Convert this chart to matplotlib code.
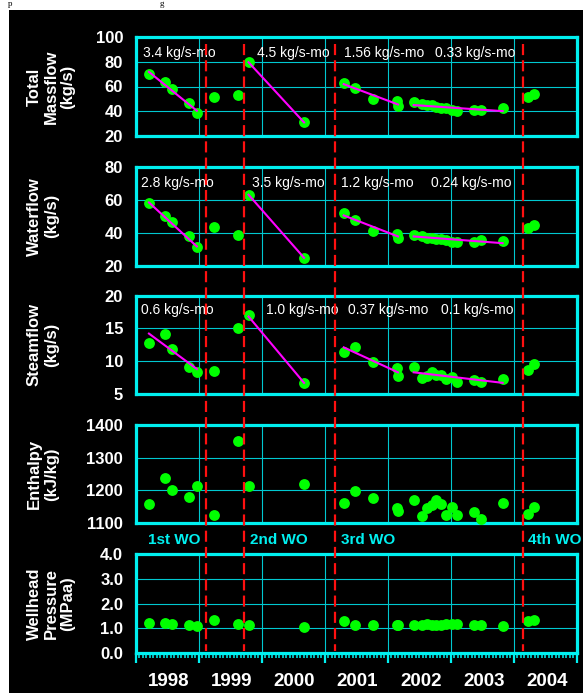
import numpy as np
import matplotlib
matplotlib.use("Agg")
import matplotlib.pyplot as plt
from matplotlib.lines import Line2D
from matplotlib.patches import Rectangle
from matplotlib.transforms import blended_transform_factory

plt.rcParams["font.family"] = ["Liberation Sans", "DejaVu Sans"]
NARROW = ["Liberation Sans Narrow", "Liberation Sans", "DejaVu Sans"]

# ---- data (decimal years) ----
dates = [1998.21, 1998.47, 1998.58, 1998.85, 1998.97,
         1999.24, 1999.62,
         1999.79, 2000.67,
         2001.30, 2001.48, 2001.76, 2002.14, 2002.16, 2002.41, 2002.54, 2002.62,
         2002.70, 2002.76, 2002.84, 2002.92, 2003.01, 2003.10, 2003.36, 2003.48, 2003.82,
         2004.22, 2004.31]

massflow = [70.5, 63.8, 58.1, 46.3, 38.8, 51.7, 53.3, 79.6, 31.0,
            62.7, 58.7, 50.1, 48.2, 44.2, 47.1, 45.5, 45.0, 44.7, 43.6, 42.8,
            42.3, 40.9, 40.4, 40.9, 40.9, 42.3, 51.7, 53.8]
waterflow = [58.0, 49.9, 46.8, 37.7, 31.2, 43.4, 38.7, 63.1, 24.7,
             51.9, 47.9, 41.0, 39.3, 36.9, 38.7, 37.7, 36.9, 36.9, 36.3, 35.9,
             35.7, 34.6, 34.2, 34.2, 35.3, 34.8, 43.0, 44.4]
steamflow = [12.8, 14.2, 11.8, 9.1, 8.3, 8.5, 15.1, 17.1, 6.7,
             11.4, 12.1, 9.8, 8.9, 7.7, 9.1, 7.5, 7.7, 8.4, 7.9, 7.9,
             7.3, 7.6, 6.8, 7.2, 6.8, 7.3, 8.7, 9.5]
enthalpy = [1158, 1237, 1202, 1181, 1214, 1125, 1350, 1212, 1219,
            1161, 1198, 1178, 1145, 1137, 1170, 1120, 1146, 1156, 1169, 1159,
            1125, 1149, 1123, 1133, 1113, 1161, 1128, 1148]
pressure = [1.21, 1.23, 1.18, 1.14, 1.10, 1.32, 1.17, 1.14, 1.07,
            1.28, 1.14, 1.13, 1.14, 1.13, 1.14, 1.14, 1.18, 1.15, 1.15, 1.15,
            1.16, 1.17, 1.16, 1.14, 1.14, 1.10, 1.28, 1.32]

# decline trend segments (start, end)
trend_x = [(1998.21, 1998.97), (1999.79, 2000.67), (2001.30, 2002.16), (2002.41, 2003.82)]
mass_trend = [(71.8, 40.4), (79.6, 31.0), (61.9, 45.5), (45.0, 40.1)]
water_trend = [(58.4, 31.6), (63.1, 24.7), (50.5, 37.7), (37.7, 33.6)]
steam_trend = [(14.2, 8.8), (16.8, 6.7), (12.1, 8.3), (8.3, 6.7)]

mass_rates = ["3.4 kg/s-mo", "4.5 kg/s-mo", "1.56 kg/s-mo", "0.33 kg/s-mo"]
mass_rate_x = [1998.12, 1999.92, 2001.30, 2002.75]
water_rates = ["2.8 kg/s-mo", "3.5 kg/s-mo", "1.2 kg/s-mo", "0.24 kg/s-mo"]
water_rate_x = [1998.08, 1999.85, 2001.26, 2002.68]
steam_rates = ["0.6 kg/s-mo", "1.0 kg/s-mo", "0.37 kg/s-mo", "0.1 kg/s-mo"]
steam_rate_x = [1998.09, 2000.06, 2001.37, 2002.85]

wo_dates = [1999.12, 1999.72, 2001.16, 2004.15]
wo_labels = ["1st WO", "2nd WO", "3rd WO", "4th WO"]
wo_label_x = [1998.20, 1999.81, 2001.26, 2004.23]

years = [1998, 1999, 2000, 2001, 2002, 2003, 2004]

# ---- layout ----
W, H = 583, 693
fig = plt.figure(figsize=(W / 100, H / 100), dpi=100)
fig.patch.set_facecolor("white")
fig.patches.append(Rectangle((9 / W, 0), 1, 1 - 10 / H, transform=fig.transFigure,
                             facecolor="black", edgecolor="none", zorder=-5))
# fragments of the page text above the chart
fig.text(8 / W, 1 - 6 / H, "p", family="Liberation Serif", fontsize=6.5, va="baseline", zorder=-6)
fig.text(160 / W, 1 - 6 / H, "g", family="Liberation Serif", fontsize=6.5, va="baseline", zorder=-6)

CYAN = "#00F0F0"
GRID = "#00C8D0"
GREEN = "#00FF00"
MAGENTA = "#FF00FF"

panels = [(37, 136), (167, 265.5), (295.5, 394), (425, 523), (554, 653)]
left_px, right_px = 135.7, 577

series = [
    (massflow, (20, 100), [20, 40, 60, 80, 100], "Total\nMassflow\n(kg/s)", mass_trend, mass_rates, mass_rate_x, 87),
    (waterflow, (20, 80), [20, 40, 60, 80], "Waterflow\n(kg/s)", water_trend, water_rates, water_rate_x, 70),
    (steamflow, (5, 20), [5, 10, 15, 20], "Steamflow\n(kg/s)", steam_trend, steam_rates, steam_rate_x, 17.8),
    (enthalpy, (1100, 1400), [1100, 1200, 1300, 1400], "Enthalpy\n(kJ/kg)", None, None, None, None),
    (pressure, (0, 4), [0, 1, 2, 3, 4], "Wellhead\nPressure\n(MPaa)", None, None, None, None),
]

axes = []
for (top, bot), (vals, ylim, yticks, ylabel, trend, rates, rate_x, rate_y) in zip(panels, series):
    ax = fig.add_axes([left_px / W, 1 - bot / H, (right_px - left_px) / W, (bot - top) / H])
    ax.set_facecolor("black")
    ax.set_xlim(1998, 2005)
    ax.set_ylim(*ylim)
    ax.set_yticks(yticks)
    if ylim == (0, 4):
        ax.set_yticklabels([f"{v:.1f}" for v in yticks])
    ax.set_xticks(range(1998, 2006))
    ax.grid(True, color=GRID, lw=0.8)
    ax.set_axisbelow(True)
    for sp in ax.spines.values():
        sp.set_color(CYAN)
        sp.set_linewidth(2.3)
    ax.tick_params(axis="y", length=0, pad=9, labelcolor="white", labelsize=12)
    for lab in ax.get_yticklabels():
        lab.set_fontweight("bold")
    ax.tick_params(axis="x", length=0, labelbottom=False)

    ax.plot(dates, vals, "o", color=GREEN, ms=7.8, mec="none", zorder=3, clip_on=False)
    if trend is not None:
        for xs, ys in zip(trend_x, trend):
            ax.plot(xs, ys, color=MAGENTA, lw=1.5, zorder=4)
        for txt, x in zip(rates, rate_x):
            ax.text(x, rate_y, txt, color="white", fontsize=10, family=NARROW,
                    ha="left", va="center", zorder=5)

    fig.text(27 / W, 1 - (top + bot) / 2 / H, ylabel, rotation=90, ha="left", va="center",
             multialignment="center", fontsize=12, fontweight="bold", color="white",
             linespacing=1.15)
    axes.append(ax)

ax5 = axes[-1]
ax5.tick_params(axis="x", which="major", length=7, width=1.6, color=CYAN, direction="out")
ax5.set_xticks(np.arange(1998, 2005.001, 1 / 18), minor=True)
ax5.tick_params(axis="x", which="minor", length=3.6, width=1.1, color=CYAN, direction="out")
for yr in years:
    ax5.text(yr + 0.52, -0.285, str(yr), transform=ax5.get_xaxis_transform(),
             ha="center", va="center", fontsize=13.5, fontweight="bold", family=NARROW,
             color="white")

# workover lines spanning all panels
trans = blended_transform_factory(ax5.transData, fig.transFigure)
for x in wo_dates:
    fig.add_artist(Line2D([x, x], [1 - 44 / H, 1 - 651 / H], transform=trans,
                          color="#FF1010", lw=1.6, ls=(0, (5, 2.3)), zorder=10))
for txt, x in zip(wo_labels, wo_label_x):
    fig.text(x, 1 - 540 / H, txt, transform=trans, ha="left", va="center",
             fontsize=11, fontweight="bold", color=CYAN, zorder=11)

fig.savefig("out.png", dpi=100, facecolor=fig.get_facecolor())
